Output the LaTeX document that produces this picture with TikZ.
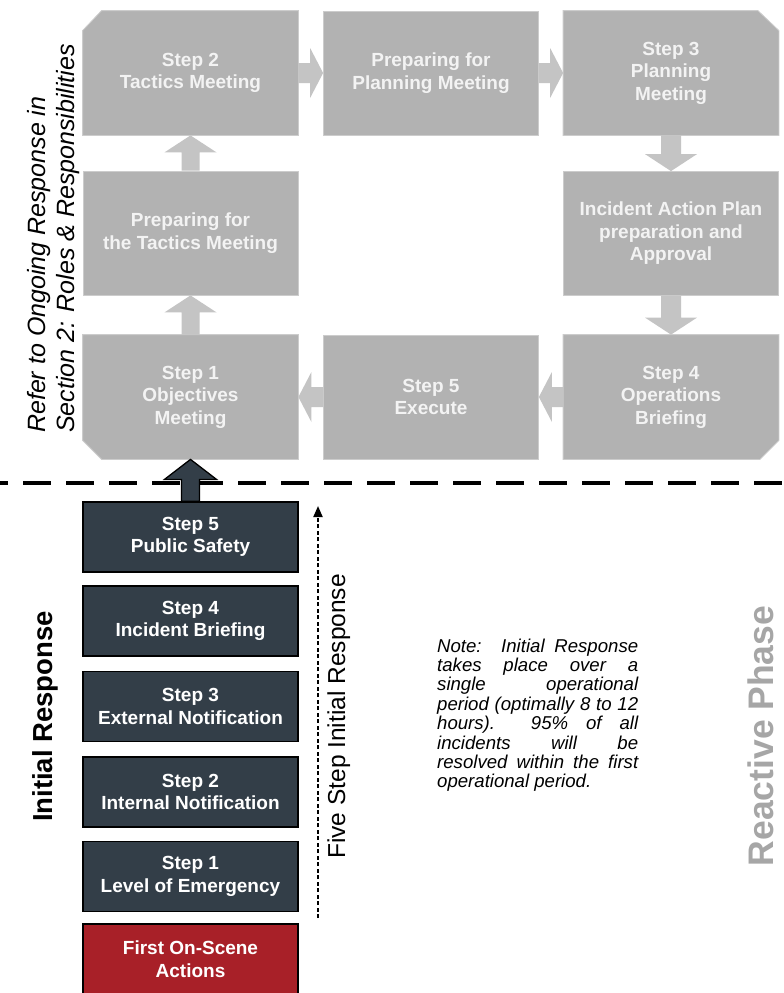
\documentclass[tikz,border=0pt]{standalone}
\usepackage{fontspec}
\setmainfont{Liberation Sans}
\usetikzlibrary{calc,arrows.meta}
\pgfdeclarelayer{bg}
\pgfsetlayers{bg,main}
\definecolor{boxgray}{RGB}{178,178,178}
\definecolor{boxedge}{RGB}{204,204,204}
\definecolor{arrgray}{RGB}{196,196,196}
\definecolor{boxtext}{RGB}{243,243,243}
\definecolor{darkbox}{RGB}{51,62,72}
\definecolor{redbox}{RGB}{168,32,40}
\definecolor{phasegray}{RGB}{166,166,166}
\tikzset{
  boxfont/.style={font=\fontsize{19}{22.5}\selectfont\bfseries},
  gbox/.style={boxfont, minimum width=215pt, minimum height=124pt, inner sep=0pt, align=center, text=boxtext, fill=boxgray, draw=boxedge, line width=0.8pt},
  gcham/.style={gbox, fill=none, draw=none},
  chamfill/.style={fill=boxgray, draw=boxedge, line width=0.8pt},
  dbox/.style={boxfont, minimum width=215pt, minimum height=70pt, inner sep=0pt, align=center, text=white, fill=darkbox, draw=black, line width=1.3pt},
  rbox/.style={dbox, fill=redbox},
  garrow/.style={fill=arrgray},
  vtext/.style={rotate=90, inner sep=0pt},
}
% block arrows between named nodes
\newcommand\ArrR[2]{\fill[garrow] let \p1=(#1.east), \p2=(#2.west) in
  (\x1,\y1+10pt) -- (\x2-13pt,\y1+10pt) -- (\x2-13pt,\y1+25pt) -- (\x2,\y1) -- (\x2-13pt,\y1-25pt) -- (\x2-13pt,\y1-10pt) -- (\x1,\y1-10pt) -- cycle;}
\newcommand\ArrL[2]{\fill[garrow] let \p1=(#1.west), \p2=(#2.east) in
  (\x1,\y1+10pt) -- (\x2+13pt,\y1+10pt) -- (\x2+13pt,\y1+25pt) -- (\x2,\y1) -- (\x2+13pt,\y1-25pt) -- (\x2+13pt,\y1-10pt) -- (\x1,\y1-10pt) -- cycle;}
\newcommand\ArrU[2]{\fill[garrow] let \p1=(#1.north), \p2=(#2.south) in
  (\x1-9pt,\y1) -- (\x1-9pt,\y2-17pt) -- (\x1-26pt,\y2-17pt) -- (\x1,\y2) -- (\x1+26pt,\y2-17pt) -- (\x1+9pt,\y2-17pt) -- (\x1+9pt,\y1) -- cycle;}
\newcommand\ArrD[2]{\fill[garrow] let \p1=(#1.south), \p2=(#2.north) in
  (\x1-10pt,\y1) -- (\x1-10pt,\y2+17pt) -- (\x1-26pt,\y2+17pt) -- (\x1,\y2) -- (\x1+26pt,\y2+17pt) -- (\x1+10pt,\y2+17pt) -- (\x1+10pt,\y1) -- cycle;}
\begin{document}
\begin{tikzpicture}[x=1pt,y=-1pt]
\useasboundingbox (0,0) rectangle (784,993);

% ---- gray cycle boxes
\node[gcham] (s2)  at (190.5,73)  {Step 2\\Tactics Meeting};
\node[gbox]  (ppm) at (431,73)    {Preparing for\\Planning Meeting};
\node[gcham] (s3)  at (671,73)    {Step 3\\Planning\\Meeting};
\node[gbox]  (ptm) at (190.5,233) {Preparing for\\the Tactics Meeting};
\node[gbox]  (iap) at (671,233.5) {Incident Action Plan\\preparation and\\Approval};
\node[gcham] (s1)  at (190.5,397) {Step 1\\Objectives\\Meeting};
\node[gbox]  (s5e) at (431,397)   {Step 5\\Execute};
\node[gcham] (s4)  at (671,397)   {Step 4\\Operations\\Briefing};

\begin{pgfonlayer}{bg}
\fill[white] (0,0) rectangle (784,993);
\filldraw[chamfill] ([yshift=-20pt]s2.north west) -- ([xshift=19pt]s2.north west) -- (s2.north east) -- (s2.south east) -- (s2.south west) -- cycle;
\filldraw[chamfill] (s3.north west) -- ([xshift=-21pt]s3.north east) -- ([yshift=-20pt]s3.north east) -- (s3.south east) -- (s3.south west) -- cycle;
\filldraw[chamfill] (s1.north west) -- (s1.north east) -- (s1.south east) -- ([xshift=19pt]s1.south west) -- ([yshift=19pt]s1.south west) -- cycle;
\filldraw[chamfill] (s4.north west) -- (s4.north east) -- ([yshift=19pt]s4.south east) -- ([xshift=-19pt]s4.south east) -- (s4.south west) -- cycle;
\end{pgfonlayer}

% ---- gray block arrows
\ArrR{s2}{ppm}
\ArrR{ppm}{s3}
\ArrD{s3}{iap}
\ArrD{iap}{s4}
\ArrL{s4}{s5e}
\ArrL{s5e}{s1}
\ArrU{s1}{ptm}
\ArrU{ptm}{s2}

% ---- dashed separator
\coordinate (dl) at (0,483);
\coordinate (dr) at (784,483);
\draw[line width=3.5pt, dash pattern=on 28pt off 15pt, dash phase=20pt] (dl) -- (dr);

% ---- initial response boxes
\node[dbox] (d5) at (190.5,537)   {Step 5\\Public Safety};
\node[dbox] (d4) at (190.5,621)   {Step 4\\Incident Briefing};
\node[dbox] (d3) at (190.5,706.5) {Step 3\\External Notification};
\node[dbox] (d2) at (190.5,792)   {Step 2\\Internal Notification};
\node[dbox] (d1) at (190.5,876.5) {Step 1\\Level of Emergency};
\node[rbox] (fo) at (190.5,959)   {First On-Scene\\Actions};

% ---- dark arrow into Step 1
\filldraw[fill=darkbox, draw=black, line width=1.3pt] let \p1=(d5.north), \p2=(s1.south) in
  (\x1-9pt,\y1) -- (\x1-9pt,\y2-20pt) -- (\x1-26pt,\y2-20pt) -- (\x1,\y2) -- (\x1+26pt,\y2-20pt) -- (\x1+9pt,\y2-20pt) -- (\x1+9pt,\y1) -- cycle;

% ---- dotted arrow
\coordinate (fb) at (318,918);
\coordinate (ft) at (318,506);
\draw[line width=2pt, dash pattern=on 4pt off 2.5pt, -{Triangle[length=11pt,width=9pt]}] (fb) -- (ft);

% ---- rotated labels
\node[vtext, anchor=base west, font=\fontsize{25}{30}\selectfont\itshape] (ref1) at (45,433) {Refer to Ongoing Response in};
\node[vtext, anchor=base west, font=\fontsize{25}{30}\selectfont\itshape] (ref2) at (74,433) {Section 2: Roles \& Responsibilities};
\node[vtext, anchor=base, font=\fontsize{27.5}{33}\selectfont\bfseries] (ir) at (52,716.5) {Initial Response};
\node[vtext, anchor=base, font=\fontsize{24.5}{29}\selectfont] (fs) at (345,716.5) {Five Step Initial Response};
\node[vtext, anchor=base, font=\fontsize{35.5}{40}\selectfont\bfseries, text=phasegray] (rp) at (773,736) {Reactive Phase};

% ---- note
\node[anchor=base west, inner sep=0pt, font=\fontsize{18.6}{19.4}\selectfont\itshape] (note) at (437,652) {\parbox[t]{201pt}{%
\makebox[201pt][s]{Note:\ \ Initial Response}\\
\makebox[201pt][s]{takes place over a}\\
\makebox[201pt][s]{single operational}\\
\makebox[201pt][s]{period (optimally 8 to 12}\\
\makebox[201pt][s]{hours).\ \ 95\% of all}\\
\makebox[201pt][s]{incidents will be}\\
\makebox[201pt][s]{resolved within the first}\\
operational period.}};
\end{tikzpicture}
\end{document}
